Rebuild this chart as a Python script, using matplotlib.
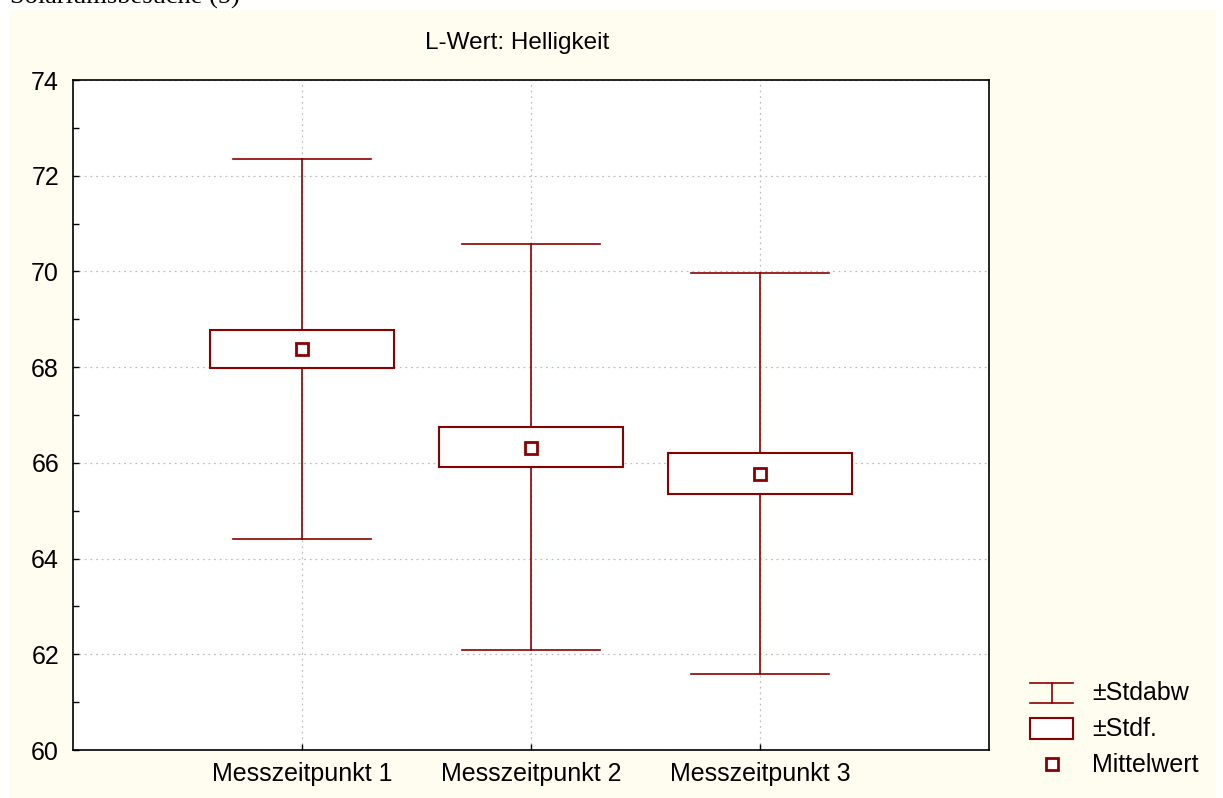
import matplotlib
matplotlib.use("Agg")
import matplotlib.pyplot as plt
from matplotlib.patches import Rectangle
from matplotlib.lines import Line2D

# Data
categories = ["Messzeitpunkt 1", "Messzeitpunkt 2", "Messzeitpunkt 3"]
means = [68.37, 66.31, 65.77]
se_low = [67.98, 65.91, 65.35]
se_high = [68.77, 66.75, 66.21]
sd_low = [64.41, 62.09, 61.59]
sd_high = [72.34, 70.58, 69.97]
yticks = [60, 62, 64, 66, 68, 70, 72, 74]

W, H = 1223, 798
DARK = "#8B0000"
CREAM = "#FFFCF0"
plt.rcParams['font.family'] = ['Liberation Sans', 'DejaVu Sans']

fig = plt.figure(figsize=(W / 100, H / 100), dpi=100)
fig.patch.set_facecolor("white")
fig.add_artist(Rectangle((9 / W, 0), (1216 - 9) / W, (H - 10) / H,
                         transform=fig.transFigure, facecolor=CREAM,
                         edgecolor="none", zorder=-10))

fig.text(10 / W, 1 - 4 / H, "Solariumsbesuche (5)", family="Liberation Serif",
         fontsize=19, va="baseline", ha="left")

ax = fig.add_axes([73 / W, (H - 750) / H, 916 / W, 670 / H])
ax.set_facecolor("white")
xs = [1, 2, 3]
cap = 0.3
bw = 0.4
for x, m, sl, sh, dl, dh in zip(xs, means, se_low, se_high, sd_low, sd_high):
    ax.plot([x, x], [dl, sl], color=DARK, lw=1.2, zorder=3)
    ax.plot([x, x], [sh, dh], color=DARK, lw=1.2, zorder=3)
    ax.plot([x - cap, x + cap], [dl, dl], color=DARK, lw=1.2, zorder=3)
    ax.plot([x - cap, x + cap], [dh, dh], color=DARK, lw=1.2, zorder=3)
    ax.add_patch(Rectangle((x - bw, sl), 2 * bw, sh - sl, facecolor="white",
                           edgecolor=DARK, lw=1.5, zorder=3))
    ax.plot([x], [m], marker="s", ms=9, mfc="white", mec=DARK, mew=2,
            ls="none", zorder=4)

ax.set_xlim(0, 4)
ax.set_ylim(60, 74)
ax.set_xticks(xs)
ax.set_xticklabels(categories, fontsize=18)
ax.set_yticks(yticks)
ax.set_yticklabels([str(v) for v in yticks], fontsize=18)
ax.set_yticks(range(60, 75), minor=True)
ax.tick_params(axis="both", which="both", direction="in", length=4, width=1)
ax.tick_params(axis="y", pad=10)
ax.tick_params(axis="x", pad=9)
ax.grid(True, which="major", color="#c0c0c0", linestyle=(0, (1.5, 3)), lw=0.9)
ax.set_axisbelow(True)
for s in ax.spines.values():
    s.set_color("black")
    s.set_linewidth(1.2)

fig.text(517 / W, 1 - 43 / H, "L-Wert: Helligkeit", fontsize=17.5,
         ha="center", va="center")

# Legend (manual)
lg = fig.add_axes([1020 / W, 0, 203 / W, 1], facecolor="none")
lg.set_xlim(1020, 1223)
lg.set_ylim(H, 0)
lg.axis("off")
lg.plot([1030, 1073], [683, 683], color=DARK, lw=1.2)
lg.plot([1030, 1073], [703, 703], color=DARK, lw=1.2)
lg.plot([1052, 1052], [683, 703], color=DARK, lw=1.2)
lg.add_patch(Rectangle((1030, 718), 43, 21, facecolor="white", edgecolor=DARK, lw=1.5))
lg.plot([1052], [764], marker="s", ms=9, mfc="white", mec=DARK, mew=2)
for yy, t in [(693, "±Stdabw"), (729, "±Stdf."), (765, "Mittelwert")]:
    lg.text(1092, yy, t, fontsize=18, va="center", ha="left")

fig.savefig("out.png", dpi=100, facecolor="white")
